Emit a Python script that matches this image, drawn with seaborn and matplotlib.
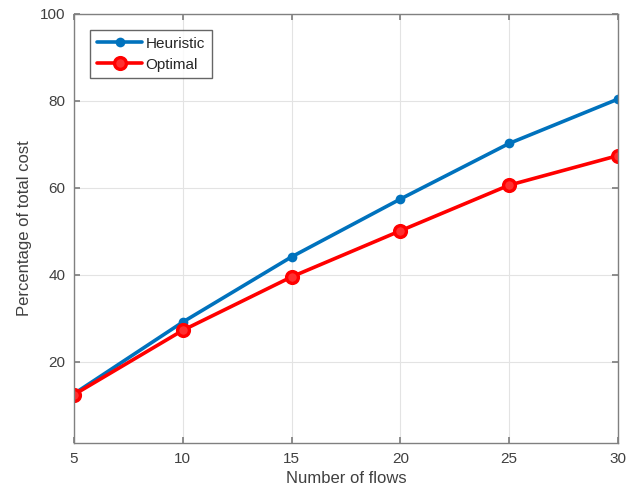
import matplotlib
matplotlib.use("Agg")
import matplotlib.pyplot as plt
import seaborn as sns

flows = [5, 10, 15, 20, 25, 30]
heuristic = [12.6, 29.1, 44.1, 57.4, 70.2, 80.4]
optimal = [12.4, 27.2, 39.5, 50.1, 60.6, 67.4]
xticks = [5, 10, 15, 20, 25, 30]
yticks = [20, 40, 60, 80, 100]

sns.set_theme(style="white")
plt.rcParams['font.family'] = ['Liberation Sans', 'DejaVu Sans']

fig = plt.figure(figsize=(6.39, 4.97), dpi=100)
ax = fig.add_axes([0.1158, 0.108, 0.8512, 0.864])

sns.lineplot(x=flows, y=heuristic, ax=ax, color='#0072BD', lw=2.6,
             marker='o', markersize=7, markeredgewidth=0, label='Heuristic')
sns.lineplot(x=flows, y=optimal, ax=ax, color='#FF0000', lw=2.6,
             marker='o', markersize=8.5, markerfacecolor='#ff3030',
             markeredgecolor='#FF0000', markeredgewidth=2.4, label='Optimal')

ax.set_xlim(5, 30)
ax.set_ylim(1.2, 100)
ax.set_xticks(xticks)
ax.set_yticks(yticks)
ax.grid(True, color='#e3e3e3', lw=0.8)
for s in ax.spines.values():
    s.set_color('#808080')
    s.set_linewidth(1.0)
ax.tick_params(direction='in', length=4, color='#808080', labelsize=11,
               labelcolor='#404040', pad=6, left=True, bottom=True,
               right=True, top=True, labelright=False, labeltop=False)
ax.set_xlabel('Number of flows', fontsize=12, color='#404040', labelpad=4)
ax.set_ylabel('Percentage of total cost', fontsize=12, color='#404040', labelpad=6)

leg = ax.legend(loc='upper left', bbox_to_anchor=(0.029, 0.963), fontsize=11,
                frameon=True, fancybox=False, edgecolor='#404040',
                handlelength=3.0, borderpad=0.45, labelspacing=0.45,
                handletextpad=0.2, borderaxespad=0)
leg.get_frame().set_linewidth(1.0)

fig.savefig('out.png', dpi=100)
